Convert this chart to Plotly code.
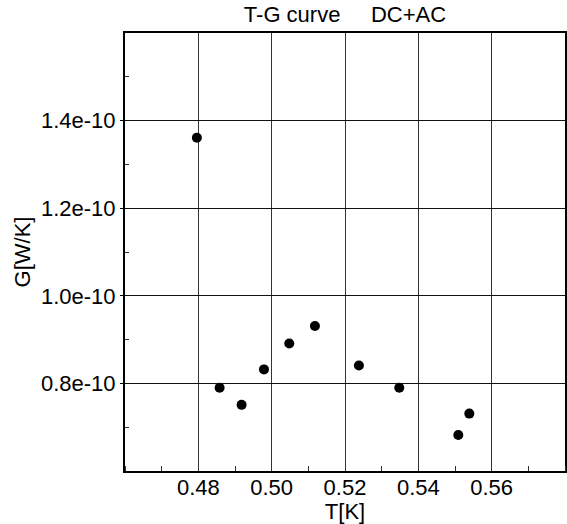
import plotly.graph_objects as go

T_K = [0.4796, 0.4858, 0.4918, 0.4979, 0.5048, 0.5118, 0.5238, 0.5348, 0.5509, 0.5539]
G_WK = [1.361e-10, 0.790e-10, 0.751e-10, 0.832e-10, 0.891e-10, 0.931e-10, 0.841e-10, 0.790e-10, 0.682e-10, 0.731e-10]

x_ticks = [0.48, 0.50, 0.52, 0.54, 0.56]
x_ticktext = ["0.48", "0.50", "0.52", "0.54", "0.56"]
y_ticks = [0.8e-10, 1.0e-10, 1.2e-10, 1.4e-10]
y_ticktext = ["0.8e-10", "1.0e-10", "1.2e-10", "1.4e-10"]

FONT = "Liberation Sans, Arial, sans-serif"

fig = go.Figure()
fig.add_trace(go.Scatter(
    x=T_K, y=G_WK, mode="markers",
    marker=dict(color="black", size=10, symbol="circle"),
    showlegend=False,
))

fig.update_layout(
    width=567, height=524,
    margin=dict(l=125, r=2, t=33, b=53, autoexpand=False),
    paper_bgcolor="white", plot_bgcolor="white",
    font=dict(family=FONT, size=22, color="black"),
    title=dict(text="T-G curve&nbsp;&nbsp;&nbsp;&nbsp;&nbsp;DC+AC", x=0.5, xanchor="center", xref="paper",
               y=1 - 14/524, yref="container", yanchor="middle", automargin=False,
               font=dict(family=FONT, size=22, color="black")),
)

fig.update_xaxes(
    range=[0.46, 0.58], tickvals=x_ticks, ticktext=x_ticktext,
    showgrid=True, gridcolor="#333333", gridwidth=1,
    showline=True, linecolor="black", linewidth=2, mirror=True,
    ticks="", ticklabelstandoff=-4,
    minor=dict(dtick=0.01, tick0=0.46, ticks="inside", ticklen=5, tickcolor="#333333", showgrid=False),
    zeroline=False, automargin=False,
    title=dict(text="T[K]", standoff=0, font=dict(family=FONT, size=22)),
    tickfont=dict(family=FONT, size=22),
)
fig.update_yaxes(
    range=[0.6e-10, 1.6e-10], tickvals=y_ticks, ticktext=y_ticktext,
    showgrid=True, gridcolor="#111111", gridwidth=1,
    showline=True, linecolor="black", linewidth=2, mirror=True,
    ticks="outside", ticklen=3, tickcolor="black",
    minor=dict(dtick=0.2e-10, tick0=0.7e-10, ticks="inside", ticklen=4, tickcolor="#333333", showgrid=False),
    zeroline=False, automargin=False,
    title=dict(text="G[W/K]", standoff=4, font=dict(family=FONT, size=22)),
    tickfont=dict(family=FONT, size=22),
)

fig.write_html("out.html", config={"displayModeBar": False},
               post_script="document.body.style.margin='0';document.body.style.overflow='hidden';")
